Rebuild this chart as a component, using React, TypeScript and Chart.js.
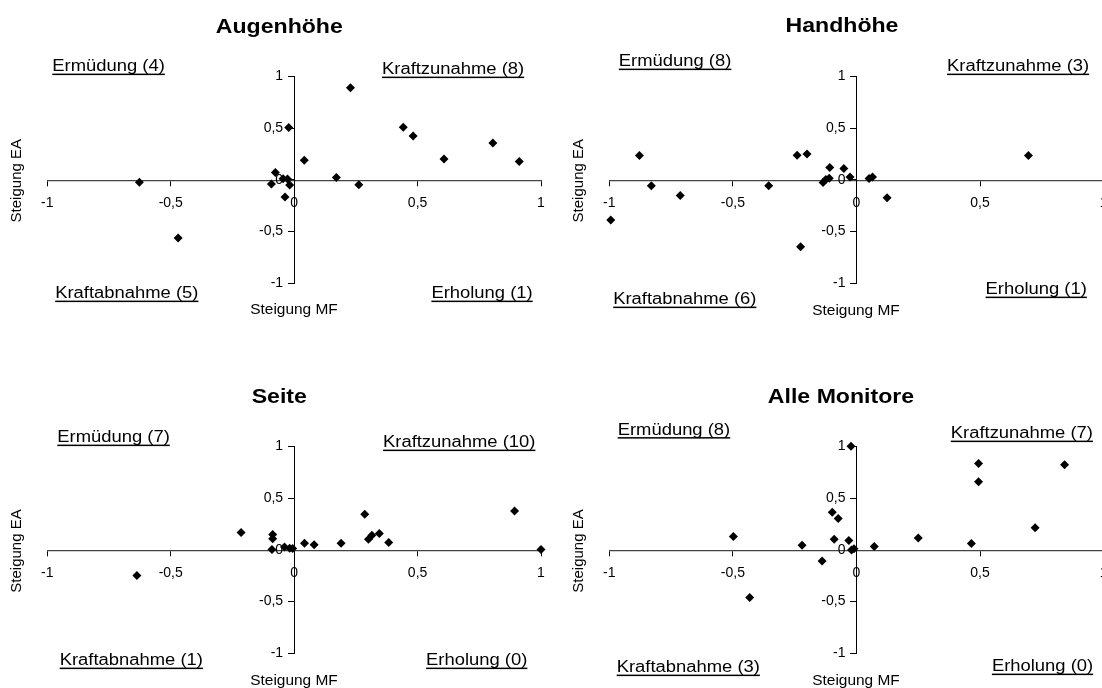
import { useEffect, useRef } from "react";
import { Chart, registerables } from "chart.js";

Chart.register(...registerables);

const FONT = "'Liberation Sans', Arial, Helvetica, sans-serif";
const PAGE_W = 1102;
const PAGE_H = 688;
// The drawing surface is a little wider than the page so the right-hand
// panels can run their axis up to the page edge and get clipped there.
const CANVAS_W = 1140;

// Slope pairs per monitor position: MF slope (x) and EA slope (y)
const augenhoeheMF = [-0.627, -0.47, -0.092, -0.076, -0.045, -0.037, -0.027, -0.018, -0.022, 0.041, 0.171, 0.228, 0.262, 0.442, 0.482, 0.607, 0.805, 0.912];
const augenhoeheEA = [-0.024, -0.562, -0.04, 0.07, 0.01, -0.167, 0.008, -0.05, 0.505, 0.188, 0.022, 0.89, -0.048, 0.507, 0.424, 0.201, 0.356, 0.176];

const handhoeheMF = [-0.994, -0.878, -0.83, -0.713, -0.355, -0.24, -0.2, -0.226, -0.135, -0.124, -0.11, -0.108, -0.051, -0.026, 0.051, 0.065, 0.124, 0.696];
const handhoeheEA = [-0.389, 0.235, -0.058, -0.151, -0.058, 0.238, 0.25, -0.647, -0.026, 0.003, 0.016, 0.119, 0.11, 0.026, 0.013, 0.026, -0.174, 0.235];

const seiteMF = [-0.637, -0.215, -0.087, -0.087, -0.09, -0.039, -0.018, -0.006, 0.042, 0.081, 0.19, 0.286, 0.301, 0.315, 0.345, 0.383, 0.893, 1.0];
const seiteEA = [-0.248, 0.166, 0.148, 0.106, 0.003, 0.028, 0.015, 0.012, 0.063, 0.05, 0.063, 0.343, 0.103, 0.14, 0.158, 0.071, 0.374, 0.003];

const alleMF = [-0.498, -0.432, -0.22, -0.139, -0.098, -0.074, -0.09, -0.031, -0.022, -0.02, -0.01, 0.072, 0.25, 0.465, 0.494, 0.494, 0.723, 0.842];
const alleEA = [0.129, -0.461, 0.045, -0.108, 0.363, 0.302, 0.102, 0.09, 1.0, -0.003, 0.01, 0.032, 0.115, 0.061, 0.834, 0.657, 0.213, 0.821];

const axisMin = -1;
const axisMax = 1;
const axisStep = 0.5;

const quadrantNames = {
  erm: "Ermüdung",
  kz: "Kraftzunahme",
  ka: "Kraftabnahme",
  erh: "Erholung",
};

type Pos = [number, number];
type Panel = {
  title: string;
  mf: number[];
  ea: number[];
  box: { left: number; right: number; top: number; bottom: number };
  titleAt: Pos;
  mfTitleAt: Pos;
  eaTitleAt: Pos;
  labels: { erm: Pos; kz: Pos; ka: Pos; erh: Pos };
};

const panels: Panel[] = [
  {
    title: "Augenhöhe",
    mf: augenhoeheMF,
    ea: augenhoeheEA,
    box: { left: 47.3, right: 541, top: 76.3, bottom: 283.3 },
    titleAt: [279.3, 32.7],
    mfTitleAt: [294, 314.3],
    eaTitleAt: [16.9, 180.7],
    labels: { erm: [52.3, 71], kz: [382, 74], ka: [55.2, 298], erh: [431.4, 298] },
  },
  {
    title: "Handhöhe",
    mf: handhoeheMF,
    ea: handhoeheEA,
    box: { left: 609.3, right: 1103.6, top: 76.3, bottom: 283.3 },
    titleAt: [842, 32.3],
    mfTitleAt: [856, 315],
    eaTitleAt: [579, 180.7],
    labels: { erm: [618.8, 66], kz: [947, 71], ka: [613.2, 304], erh: [985.6, 294] },
  },
  {
    title: "Seite",
    mf: seiteMF,
    ea: seiteEA,
    box: { left: 47.3, right: 541, top: 446.3, bottom: 653.3 },
    titleAt: [279.3, 402.7],
    mfTitleAt: [294, 685],
    eaTitleAt: [16.9, 551],
    labels: { erm: [57.3, 442], kz: [383, 447], ka: [59.7, 665], erh: [426.1, 665] },
  },
  {
    title: "Alle Monitore",
    mf: alleMF,
    ea: alleEA,
    box: { left: 609.3, right: 1103.6, top: 446.3, bottom: 653.3 },
    titleAt: [841, 402.7],
    mfTitleAt: [856, 685],
    eaTitleAt: [579, 551],
    labels: { erm: [617.7, 434.5], kz: [950.8, 438], ka: [616.7, 672], erh: [991.9, 671] },
  },
];

function countQuadrants(mf: number[], ea: number[]) {
  const c = { erm: 0, kz: 0, ka: 0, erh: 0 };
  mf.forEach((x, i) => {
    const y = ea[i];
    if (x < 0 && y > 0) c.erm++;
    else if (x >= 0 && y >= 0) c.kz++;
    else if (x < 0 && y <= 0) c.ka++;
    else c.erh++;
  });
  return c;
}

function drawWide(
  ctx: CanvasRenderingContext2D,
  text: string,
  x: number,
  y: number,
  font: string,
  sx: number,
  align: "left" | "center"
) {
  ctx.save();
  ctx.font = font;
  const w = ctx.measureText(text).width * sx;
  const left = align === "center" ? x - w / 2 : x;
  ctx.translate(left, y);
  ctx.scale(sx, 1);
  ctx.textAlign = "left";
  ctx.textBaseline = "alphabetic";
  ctx.fillStyle = "#000";
  ctx.fillText(text, 0, 0);
  ctx.restore();
  return { left, w };
}

function makeTextPlugin(panel: Panel) {
  return {
    id: "panelText",
    afterDraw(chart: Chart) {
      const ctx = chart.ctx;
      const counts = countQuadrants(panel.mf, panel.ea);

      drawWide(ctx, panel.title, panel.titleAt[0], panel.titleAt[1], `bold 21px ${FONT}`, 1.1, "center");

      (Object.keys(quadrantNames) as (keyof typeof quadrantNames)[]).forEach((k) => {
        const [lx, ly] = panel.labels[k];
        const text = `${quadrantNames[k]} (${counts[k]})`;
        const { left, w } = drawWide(ctx, text, lx, ly, `16px ${FONT}`, 1.15, "left");
        ctx.fillStyle = "#000";
        ctx.fillRect(left, ly + 2.6, w, 1.5);
      });

      drawWide(ctx, "Steigung MF", panel.mfTitleAt[0], panel.mfTitleAt[1], `15px ${FONT}`, 1.03, "center");

      ctx.save();
      ctx.font = `15px ${FONT}`;
      ctx.fillStyle = "#000";
      ctx.translate(panel.eaTitleAt[0], panel.eaTitleAt[1]);
      ctx.rotate(-Math.PI / 2);
      ctx.textAlign = "center";
      ctx.textBaseline = "middle";
      ctx.fillText("Steigung EA", 0, 0);
      ctx.restore();
    },
  };
}

const fmt = (v: number | string) => String(v).replace(".", ",");

function ScatterPanel({ panel }: { panel: Panel }) {
  const ref = useRef<HTMLCanvasElement | null>(null);

  useEffect(() => {
    if (!ref.current) return;
    const points = panel.mf.map((x, i) => ({ x, y: panel.ea[i] }));
    const chart = new Chart(ref.current, {
      type: "scatter",
      data: {
        datasets: [
          {
            data: points,
            pointStyle: "rectRot",
            pointRadius: 4.5,
            pointHoverRadius: 4.5,
            backgroundColor: "#000",
            borderColor: "#000",
            borderWidth: 0,
            clip: false,
          } as any,
        ],
      },
      options: {
        responsive: false,
        animation: false,
        events: [],
        devicePixelRatio: 1,
        layout: {
          padding: {
            left: panel.box.left,
            right: CANVAS_W - panel.box.right,
            top: panel.box.top,
            bottom: PAGE_H - panel.box.bottom,
          },
        },
        plugins: {
          legend: { display: false },
          title: { display: false },
          tooltip: { enabled: false },
        },
        scales: {
          x: {
            type: "linear",
            position: "center",
            min: axisMin,
            max: axisMax,
            ticks: {
              stepSize: axisStep,
              callback: (v: any) => fmt(v),
              font: { family: FONT, size: 14 },
              color: "#000",
              padding: 10,
              maxRotation: 0,
              autoSkip: false,
            },
            grid: { drawOnChartArea: false, drawTicks: true, tickLength: 5, tickColor: "#000", tickWidth: 1 },
            border: { color: "#444", width: 1.3 },
          },
          y: {
            type: "linear",
            position: "center",
            min: axisMin,
            max: axisMax,
            ticks: {
              stepSize: axisStep,
              callback: (v: any) => fmt(v),
              font: { family: FONT, size: 14 },
              color: "#000",
              padding: 5,
              autoSkip: false,
            },
            grid: { drawOnChartArea: false, drawTicks: true, tickLength: 6, tickColor: "#000", tickWidth: 1 },
            border: { color: "#000", width: 1 },
          },
        },
      } as any,
      plugins: [makeTextPlugin(panel) as any],
    });
    return () => chart.destroy();
  }, [panel]);

  return (
    <canvas
      ref={ref}
      width={CANVAS_W}
      height={PAGE_H}
      style={{ position: "absolute", left: 0, top: 0, width: CANVAS_W, height: PAGE_H }}
    />
  );
}

export default function App() {
  return (
    <div
      style={{
        position: "fixed",
        left: 0,
        top: 0,
        width: PAGE_W,
        height: PAGE_H,
        overflow: "hidden",
        background: "#fff",
      }}
    >
      {panels.map((p) => (
        <ScatterPanel key={p.title} panel={p} />
      ))}
    </div>
  );
}
